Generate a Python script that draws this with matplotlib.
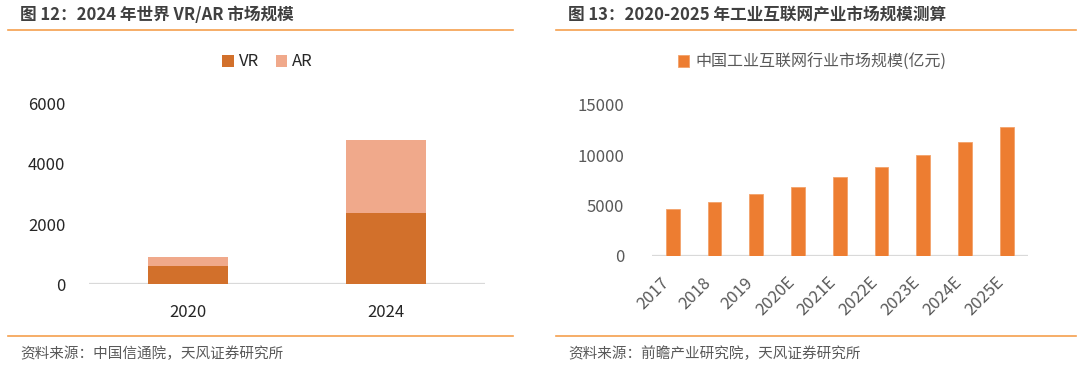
import matplotlib
matplotlib.use("Agg")
import matplotlib.pyplot as plt
from matplotlib.lines import Line2D

plt.rcParams['font.family'] = ['Noto Sans CJK SC', 'DejaVu Sans']

# 图12 数据
years_l = ['2020', '2024']
vr = [600, 2380]
ar = [300, 2420]

# 图13 数据
years_r = ['2017', '2018', '2019', '2020E', '2021E', '2022E', '2023E', '2024E', '2025E']
market = [4620, 5340, 6110, 6860, 7790, 8780, 9970, 11260, 12740]

W, H = 1080, 368
fig = plt.figure(figsize=(W / 100, H / 100), dpi=100)


def box(x0, y_top, x1, y_bot):
    return [x0 / W, 1 - y_bot / H, (x1 - x0) / W, (y_bot - y_top) / H]


def frame(x0, x1, title, source):
    fig.add_artist(Line2D([x0 / W, x1 / W], [1 - 30 / H] * 2, color='#F5A04E', lw=1.2))
    fig.add_artist(Line2D([x0 / W, x1 / W], [1 - 336 / H] * 2, color='#F5A04E', lw=1.2))
    fig.text((x0 + 12) / W, 1 - 15 / H, title, fontsize=12, fontweight='bold',
             color='#404040', va='center', ha='left')
    fig.text((x0 + 12) / W, 1 - 354 / H, source, fontsize=10.5,
             color='#595959', va='center', ha='left')


def style(ax, col):
    for s in ax.spines.values():
        s.set_visible(False)
    ax.axhline(0, color='#d9d9d9', lw=1.6, zorder=1)
    ax.tick_params(length=0, labelsize=12, colors=col)


frame(8, 513, '图 12：2024 年世界 VR/AR 市场规模', '资料来源：中国信通院，天风证券研究所')
frame(556, 1076, '图 13：2020-2025 年工业互联网产业市场规模测算', '资料来源：前瞻产业研究院，天风证券研究所')

# 左图
ax1 = fig.add_axes(box(89, 103.7, 485, 284.3))
x1 = range(len(years_l))
ax1.bar(x1, vr, width=0.4, color='#D2702B', label='VR', zorder=2)
ax1.bar(x1, ar, width=0.4, bottom=vr, color='#F0A98B', label='AR', zorder=2)
ax1.set_xlim(-0.5, 1.5)
ax1.set_ylim(0, 6000)
ax1.set_yticks([0, 2000, 4000, 6000])
ax1.set_xticks(list(x1))
ax1.set_xticklabels(years_l)
style(ax1, '#262626')
ax1.tick_params(axis='y', pad=17)
ax1.tick_params(axis='x', pad=14)
fig.legend(*ax1.get_legend_handles_labels(), loc='center', bbox_to_anchor=(267.5 / W, 1 - 62 / H),
           ncol=2, frameon=False, fontsize=12, handlelength=0.7, handleheight=0.7,
           handletextpad=0.3, columnspacing=1.0, labelcolor='#262626')

# 右图
ax2 = fig.add_axes(box(651.8, 104.5, 1027.7, 256))
x2 = range(len(years_r))
ax2.bar(x2, market, width=0.33, color='#ED7D31', edgecolor='#F3A26A', lw=0.6,
        label='中国工业互联网行业市场规模(亿元)', zorder=2)
ax2.set_xlim(-0.5, len(years_r) - 0.5)
ax2.set_ylim(0, 15000)
ax2.set_yticks([0, 5000, 10000, 15000])
ax2.set_xticks(list(x2))
ax2.set_xticklabels(years_r, rotation=45, ha='right', va='top')
style(ax2, '#595959')
ax2.tick_params(axis='y', pad=20)
ax2.tick_params(axis='x', pad=13)
fig.legend(*ax2.get_legend_handles_labels(), loc='center', bbox_to_anchor=(812 / W, 1 - 62 / H),
           frameon=False, fontsize=11.5, handlelength=0.7, handleheight=0.7,
           handletextpad=0.4, labelcolor='#595959')

fig.savefig('out.png', dpi=100)
